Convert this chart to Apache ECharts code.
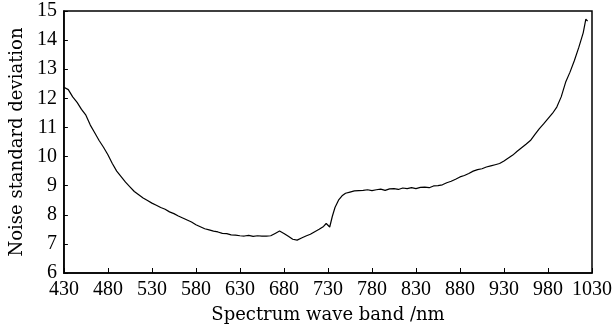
<!DOCTYPE html>
<html>
<head>
<meta charset="utf-8">
<script src="https://cdn.jsdelivr.net/npm/echarts@6/dist/echarts.min.js"></script>
<style>
html, body { margin: 0; padding: 0; background: #fff; }
#main { width: 615px; height: 330px; }
</style>
</head>
<body>
<div id="main"></div>
<script>
// wavelengths (nm) and noise standard deviation
var bands = [430, 435, 440, 445, 450, 455, 460, 465, 470, 475, 480, 485, 490, 495, 500, 505, 510, 515, 520, 525,
	530, 535, 540, 545, 550, 555, 560, 565, 570, 575, 580, 585, 590, 595, 600, 605, 610, 615, 620, 625,
	630, 635, 640, 645, 650, 655, 660, 665, 670, 675, 680, 685, 690, 695, 700, 705, 710, 715, 720, 725,
	728, 732, 735, 738, 742, 746, 750, 755, 760, 765, 770, 775, 780, 785, 790, 795, 800, 805, 810, 815,
	820, 825, 830, 835, 840, 845, 850, 855, 860, 865, 870, 875, 880, 885, 890, 895, 900, 905, 910, 915,
	920, 925, 930, 935, 940, 945, 950, 955, 960, 965, 970, 975, 980, 985, 990, 995, 1000, 1005, 1010, 1015,
	1020, 1023, 1025]
var noiseStd = [12.38, 12.30, 12.05, 11.86, 11.62, 11.42, 11.08, 10.82, 10.55, 10.32, 10.06, 9.76, 9.50, 9.31, 9.12, 8.96, 8.80, 8.69, 8.58, 8.49,
	8.40, 8.33, 8.25, 8.19, 8.10, 8.04, 7.96, 7.89, 7.82, 7.75, 7.66, 7.59, 7.52, 7.48, 7.44, 7.41, 7.36, 7.35, 7.31, 7.30,
	7.28, 7.27, 7.29, 7.26, 7.28, 7.27, 7.27, 7.28, 7.36, 7.44, 7.36, 7.26, 7.16, 7.13, 7.20, 7.27, 7.33, 7.42, 7.50, 7.60,
	7.70, 7.58, 7.95, 8.25, 8.50, 8.65, 8.74, 8.78, 8.82, 8.83, 8.84, 8.86, 8.83, 8.86, 8.88, 8.84, 8.89, 8.90, 8.87, 8.92,
	8.90, 8.93, 8.90, 8.94, 8.95, 8.93, 8.99, 9.00, 9.03, 9.10, 9.15, 9.22, 9.30, 9.35, 9.42, 9.50, 9.55, 9.58, 9.64, 9.68,
	9.72, 9.76, 9.85, 9.95, 10.05, 10.18, 10.30, 10.42, 10.55, 10.75, 10.95, 11.12, 11.30, 11.48, 11.70, 12.05, 12.55, 12.90, 13.30, 13.75,
	14.25, 14.72, 14.65]
var xTicks = [430, 480, 530, 580, 630, 680, 730, 780, 830, 880, 930, 980, 1030]
var yTicks = [6, 7, 8, 9, 10, 11, 12, 13, 14, 15]

var nameFont = 'DejaVu Serif'
var tickFont = 'Liberation Serif'
var points = bands.map(function (b, i) { return [b, noiseStd[i]] })

var option = {
	animation: false,
	backgroundColor: '#fff',
	grid: {
		left: 63,
		right: 20,
		top: 11,
		bottom: 57,
		show: true,
		borderColor: '#000',
		borderWidth: 1.5
	},
	xAxis: {
		type: 'value',
		min: 430,
		max: 1030,
		name: 'Spectrum wave band /nm',
		nameLocation: 'middle',
		nameGap: 33,
		nameTextStyle: { fontFamily: nameFont, fontSize: 18, color: '#000' },
		axisLine: { lineStyle: { color: '#000', width: 1.5 } },
		axisTick: { inside: true, length: 5, customValues: xTicks, lineStyle: { color: '#000' } },
		axisLabel: {
			customValues: xTicks,
			fontFamily: tickFont,
			fontSize: 20,
			color: '#000',
			margin: 7,
			formatter: function (v) { return String(v) }
		},
		splitLine: { show: false }
	},
	yAxis: {
		type: 'value',
		min: 6,
		max: 15,
		interval: 1,
		name: 'Noise standard deviation',
		nameLocation: 'middle',
		nameGap: 33,
		nameTextStyle: { fontFamily: nameFont, fontSize: 18, color: '#000' },
		axisLine: { show: true, lineStyle: { color: '#000', width: 1.5 } },
		axisTick: { show: true, inside: true, length: 4, customValues: yTicks, lineStyle: { color: '#000' } },
		axisLabel: { customValues: yTicks, fontFamily: tickFont, fontSize: 20, color: '#000', margin: 7 },
		splitLine: { show: false }
	},
	series: [
		{
			type: 'line',
			data: points,
			showSymbol: false,
			lineStyle: { color: '#000', width: 1.2 }
		}
	]
}
var myChart = echarts.init(document.getElementById('main'))
myChart.setOption(option)
</script>
</body>
</html>
